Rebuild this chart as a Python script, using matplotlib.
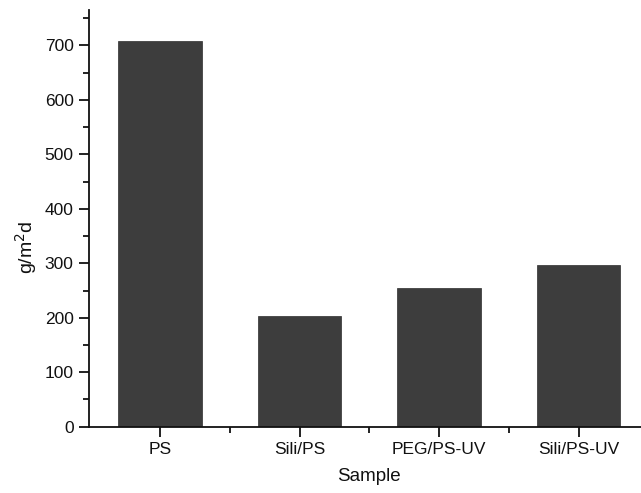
import matplotlib
matplotlib.use("Agg")
import matplotlib.pyplot as plt
from matplotlib.ticker import MultipleLocator, FixedLocator

categories = ["PS", "Sili/PS", "PEG/PS-UV", "Sili/PS-UV"]
values = [709, 204, 255, 296]

plt.rcParams['font.family'] = ['Liberation Sans', 'DejaVu Sans']

fig = plt.figure(figsize=(6.41, 4.93), dpi=100)
ax = fig.add_axes([89/641, 1-426.7/493, 559.4/641, (426.7-10)/493])

x = list(range(len(categories)))
ax.bar(x, values, width=0.6, color='#3d3d3d', edgecolor='#2e2e2e', linewidth=0.5, zorder=2)

ax.set_xlim(-0.51, 3.5)
ax.set_ylim(0, 765)

ax.spines['top'].set_visible(False)
ax.spines['right'].set_visible(False)
for s in ('left', 'bottom'):
    ax.spines[s].set_linewidth(1.3)
    ax.spines[s].set_color('#111111')

ax.set_xticks(x)
ax.set_xticklabels(categories)
ax.xaxis.set_minor_locator(FixedLocator([0.5, 1.5, 2.5]))
ax.yaxis.set_major_locator(MultipleLocator(100))
ax.yaxis.set_minor_locator(MultipleLocator(50))

ax.tick_params(axis='both', which='major', direction='out', length=7, width=1.3,
               labelsize=12.5, colors='#111111', pad=4)
ax.tick_params(axis='both', which='minor', direction='out', length=4, width=1.3,
               colors='#111111')

ax.set_xlabel("Sample", fontsize=13.5, color='#111111', labelpad=8)
ax.set_ylabel("g/m$^2$d", fontsize=14, color='#111111')
ax.yaxis.set_label_coords(-0.09, 0.43)

fig.savefig("out.png", dpi=100)
